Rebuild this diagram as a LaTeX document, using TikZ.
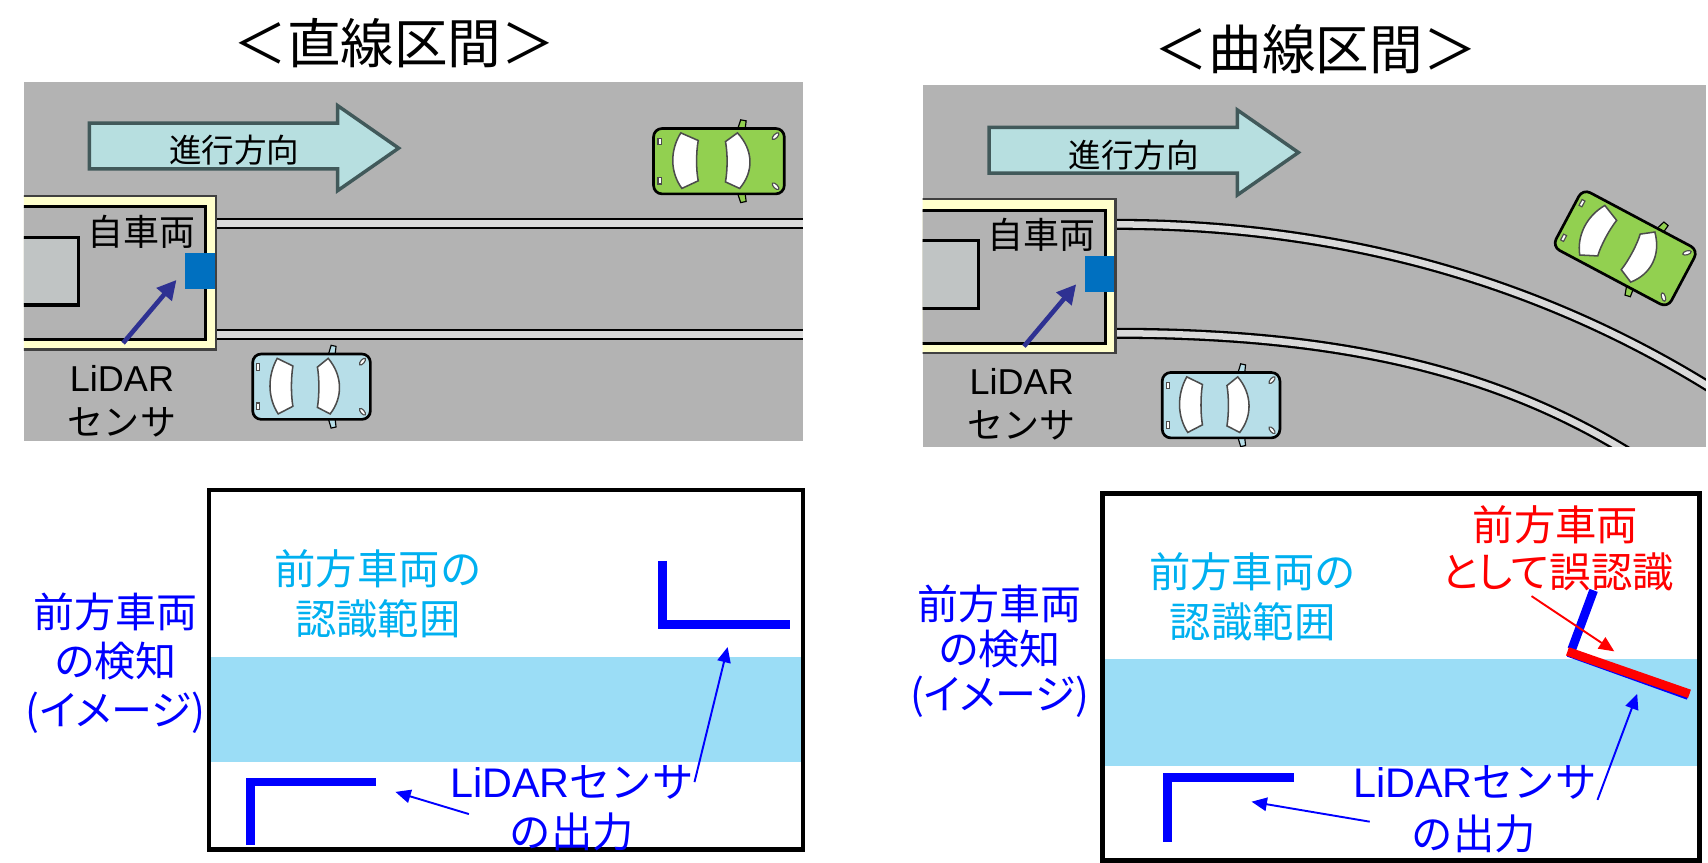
\documentclass[tikz,border=0pt]{standalone}
\usepackage{fontspec}
\setmainfont{Noto Sans CJK JP}
\newfontfamily\lat{Liberation Sans}
\newfontfamily\pfont[RawFeature=+palt]{Noto Sans CJK JP}
\usetikzlibrary{arrows.meta,calc}

\definecolor{road}{HTML}{B3B3B3}
\definecolor{railgray}{HTML}{D9D9D9}
\definecolor{egoyellow}{HTML}{FFFFCC}
\definecolor{boxgray}{HTML}{C0C4C4}
\definecolor{carGreen}{HTML}{92D050}
\definecolor{carBlue}{HTML}{B7DEE8}
\definecolor{dirfill}{HTML}{B7DFE0}
\definecolor{diredge}{HTML}{41595A}
\definecolor{sensor}{HTML}{0070C0}
\definecolor{navy}{HTML}{2E3192}
\definecolor{band}{HTML}{9BDDF6}
\definecolor{rangecyan}{HTML}{00B0F0}
\definecolor{detblue}{HTML}{0000FF}
\definecolor{errred}{HTML}{FF0000}

\tikzset{
	rail/.style={line width=0.6pt, double=railgray, double distance=1.7pt},
	window/.style={fill=white, draw=gray!60!black, line width=0.4pt},
	lamp/.style={fill=white, draw=gray!60!black, line width=0.3pt},
	frame/.style={draw=black, line width=1.2pt},
	bracket/.style={draw=detblue, line width=2.3pt},
	thinarrow/.style={draw=detblue, line width=0.5pt, -{Triangle[length=4pt,width=3.5pt]}},
	lidararrow/.style={draw=navy, line width=1.2pt, -{Triangle[length=5pt,width=5pt]}},
	title/.style={font=\fontsize{14}{16}\selectfont, inner sep=0pt},
	small/.style={font=\fontsize{9.4}{11.5}\selectfont, inner sep=0pt, align=center},
	big/.style={font=\fontsize{10.8}{13}\selectfont, inner sep=0pt, align=center},
	% top view of a car, front to the right
	pics/car/.style={code={
		\draw[fill=#1, line width=0.3pt] (17,-29) -- (20,-38) -- (25,-37) -- (24,-29) -- cycle;
		\draw[fill=#1, line width=0.3pt] (17,29) -- (20,38) -- (25,37) -- (24,29) -- cycle;
		\draw[fill=#1, line width=0.7pt, rounded corners=2.2pt] (-60,-30) rectangle (60,30);
		\draw[window] (-35,-26) .. controls (-45,-10) and (-45,10) .. (-34,25) -- (-19,18) .. controls (-21,8) and (-21,-8) .. (-19,-19) -- cycle;
		\draw[window] (17,-26) .. controls (32,-10) and (32,10) .. (19,25) -- (6,19) .. controls (8,8) and (8,-8) .. (6,-18) -- cycle;
		\draw[lamp] (-56,-21) rectangle (-53,-15);
		\draw[lamp] (-56,15) rectangle (-53,21);
		\draw[lamp, rotate around={45:(52,-23)}] (52,-23) ellipse (4 and 1.8);
		\draw[lamp, rotate around={-45:(52,23)}] (52,23) ellipse (4 and 1.8);
	}},
	% own vehicle with the sensor at its front
	pics/ego/.style={code={
		\draw[fill=egoyellow, draw=black!75, line width=0.6pt] (-20,180) rectangle (198,321);
		\draw[fill=road, draw=black, line width=0.8pt] (-20,190) rectangle (189,312);
		\draw[fill=boxgray, draw=black, line width=0.8pt] (-20,218) rectangle (72,280);
		\node[fill=sensor, minimum width=0.27cm, minimum height=0.33cm, inner sep=0pt] (sens) at (183.5,248.5) {};
		\node[small] (own) at (130,213) {自車両};
	}},
	% heading arrow
	pics/heading/.style={code={
		\draw[fill=dirfill, draw=diredge, line width=0.9pt] (82,113) -- (310,113) -- (310,97) -- (366,136) -- (310,175) -- (310,155) -- (82,155) -- cycle;
		\node[small, font=\fontsize{8.5}{10}\selectfont] (txt) at (215,138) {進行方向};
	}}
}

\begin{document}
\begin{tikzpicture}[x=0.01cm, y=-0.01cm]
\useasboundingbox (0,0) rectangle (1568,792);

% titles
\node[title] (titleL) at (362,40) {＜直線区間＞};
\node[title] (titleR) at (1208,45) {＜曲線区間＞};

% straight road
\begin{scope}
	\clip (22,75) rectangle (737,405);
	\fill[road] (22,75) rectangle (737,405);
	\draw[rail] (198,205) -- (740,205);
	\draw[rail] (198,307) -- (740,307);
	\pic (egoL) at (0,0) {ego};
	\pic (dirL) at (0,0) {heading};
	\pic at (660,148) {car=carGreen};
	\pic[xscale=0.9] at (286,355) {car=carBlue};
\end{scope}
\node[small] (lidarL) at (112,368) {{\lat LiDAR}\\センサ};
\coordinate (tailL) at (113,315);
\coordinate (tipL) at (162,257);
\draw[lidararrow] (tailL) -- (tipL);

% curved road
\begin{scope}
	\clip (847,78) rectangle (1566,410);
	\fill[road] (847,78) rectangle (1566,410);
	\draw[rail] (1024,206) .. controls (1250,206) and (1440,268) .. (1600,375);
	\draw[rail] (1024,306) .. controls (1230,306) and (1380,340) .. (1510,425);
	\pic[shift={(826,3)}] (egoR) at (0,0) {ego};
	\pic[shift={(826,4)}] (dirR) at (0,0) {heading};
	\pic[rotate=-28] at (1492,228) {car=carGreen};
	\pic[xscale=0.9] at (1121,372) {car=carBlue};
\end{scope}
\node[small] (lidarR) at (938,371) {{\lat LiDAR}\\センサ};
\coordinate (tailR) at (940,318);
\coordinate (tipR) at (988,261);
\draw[lidararrow] (tailR) -- (tipR);

% detection, straight section
\fill[band] (192,603) rectangle (737,700);
\draw[frame] (192,450) rectangle (737,780);
\node[big, text=rangecyan] (rangeL) at (347,545) {前方車両の\\認識範囲};
\node[big, text=detblue, font=\pfont\fontsize{10.7}{12.8}\selectfont] (detL) at (106,609) {前方車両\\の検知\\(イメージ)};
\draw[bracket] (608,515) -- (608,573) -- (725,573);
\draw[bracket] (345,718) -- (230,718) -- (230,776);
\coordinate (hitL1) at (668,594);
\coordinate (hitL2) at (363,727);
\node[big, text=detblue] (outL1) at (525,718) {{\lat LiDAR}センサ};
\node[big, text=detblue] (outL2) at (525,764) {の出力};
\draw[thinarrow] ($(outL1.south west)+(18,13)$) -- (hitL2);
\draw[thinarrow] (outL1.east) -- (hitL1);

% detection, curved section
\fill[band] (1012,605) rectangle (1560,703);
\draw[frame] (1012,453) rectangle (1560,790);
\node[big, text=rangecyan] (rangeR) at (1150,548) {前方車両の\\認識範囲};
\node[big, text=detblue, font=\pfont\fontsize{10.7}{11.7}\selectfont] (detR) at (918,598) {前方車両\\の検知\\(イメージ)};
\node[big, text=errred] (errR1) at (1428,482) {前方車両};
\node[big, text=errred, font=\pfont\fontsize{10.8}{13}\selectfont] (errR2) at (1430,525) {として誤認識};
\draw[bracket, line cap=butt] (1463,542) -- (1443,596);
\draw[draw=detblue, line width=2.3pt] (1440,599) -- (1550,638.5);
\draw[draw=errred, line width=2.3pt] (1439,598) -- (1551,637);
\draw[bracket] (1188,714) -- (1072,714) -- (1072,773);
\coordinate (hitR1) at (1503,637);
\coordinate (hitR2) at (1149,736);
\coordinate (errtip) at (1482,598);
\node[big, text=detblue] (outR1) at (1354,718) {{\lat LiDAR}センサ};
\node[big, text=detblue] (outR2) at (1353,766) {の出力};
\draw[thinarrow] ($(outR1.south west)+(16,20)$) -- (hitR2);
\draw[thinarrow] (outR1.south east) -- (hitR1);
\draw[thinarrow, draw=errred] ($(errR2.south)+(-24,4)$) -- (errtip);
\end{tikzpicture}
\end{document}
